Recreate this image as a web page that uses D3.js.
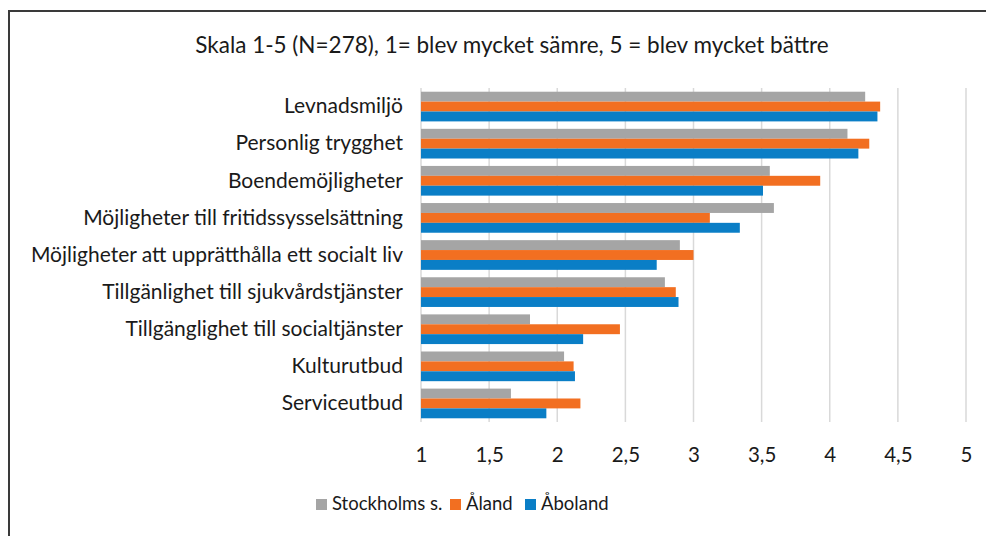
<!DOCTYPE html>
<html>
<head>
<meta charset="utf-8">
<script src="https://cdn.jsdelivr.net/npm/d3@7"></script>
<style>
  body { margin: 0; background: #fff; }
  svg text { font-family: Lato, "Open Sans", sans-serif; fill: #1a1a1a; }
</style>
</head>
<body>
<script>
// categories, top to bottom
var categories = [
    "Levnadsmiljö",
    "Personlig trygghet",
    "Boendemöjligheter",
    "Möjligheter till fritidssysselsättning",
    "Möjligheter att upprätthålla ett socialt liv",
    "Tillgänlighet till sjukvårdstjänster",
    "Tillgänglighet till socialtjänster",
    "Kulturutbud",
    "Serviceutbud"
];

var seriesNames = ["Stockholms s.", "Åland", "Åboland"];

var stockholm = [4.26, 4.13, 3.56, 3.59, 2.90, 2.79, 1.80, 2.05, 1.66];
var aland     = [4.37, 4.29, 3.93, 3.12, 3.00, 2.87, 2.46, 2.12, 2.17];
var aboland   = [4.35, 4.21, 3.51, 3.34, 2.73, 2.89, 2.19, 2.13, 1.92];

var tickValues = [1, 1.5, 2, 2.5, 3, 3.5, 4, 4.5, 5];

var colors = ["#A5A5A5", "#F26F21", "#0A7EC6"];

var width = 986, height = 536;

var svg = d3.select("body").append("svg")
    .attr("width", width)
    .attr("height", height);

// frame (only top and left edges are visible in the picture)
svg.append("path")
    .attr("d", "M9,536 L9,11 L986,11")
    .attr("fill", "none")
    .attr("stroke", "#3a3a3a")
    .attr("stroke-width", 2);

// title
svg.append("text")
    .attr("x", 512)
    .attr("y", 47)
    .attr("text-anchor", "middle")
    .attr("dominant-baseline", "middle")
    .style("font-size", "22.5px")
    .text("Skala 1-5 (N=278), 1= blev mycket sämre, 5 = blev mycket bättre");

var xScale = d3.scaleLinear().domain([1, 5]).range([421, 966]);

var yScale = d3.scaleBand().domain(categories).range([88, 422])
    .paddingInner(0.2).paddingOuter(0.1);

var inner = d3.scaleBand().domain(seriesNames).range([0, yScale.bandwidth()]);

var locale = d3.formatLocale({ decimal: ",", thousands: " ", grouping: [3], currency: ["", ""] });
var fmt = locale.format("~g");

// gridlines
svg.append("g").selectAll("line")
    .data(tickValues)
    .enter().append("line")
    .attr("x1", function (d) { return xScale(d); })
    .attr("x2", function (d) { return xScale(d); })
    .attr("y1", 88)
    .attr("y2", 422)
    .attr("stroke", "#d9d9d9")
    .attr("stroke-width", 1.5);

// x axis labels
var xAxis = d3.axisBottom(xScale).tickValues(tickValues).tickFormat(fmt).tickSize(0).tickPadding(0);
var gx = svg.append("g")
    .attr("transform", "translate(0,455)")
    .call(xAxis);
gx.select(".domain").remove();
gx.selectAll("text")
    .attr("dy", "0.35em")
    .attr("y", 0)
    .style("font-size", "20.5px")
    .style("font-family", "Lato, 'Open Sans', sans-serif")
    .attr("fill", "#1a1a1a");

// category labels
var yAxis = d3.axisLeft(yScale).tickSize(0).tickPadding(0);
var gy = svg.append("g")
    .attr("transform", "translate(403,0)")
    .call(yAxis);
gy.select(".domain").remove();
gy.selectAll("text")
    .style("font-size", "21px")
    .style("font-family", "Lato, 'Open Sans', sans-serif")
    .attr("fill", "#1a1a1a");

// bars
var rows = categories.map(function (c, i) {
    return { category: c, values: [stockholm[i], aland[i], aboland[i]] };
});

var groups = svg.append("g").selectAll("g")
    .data(rows)
    .enter().append("g")
    .attr("transform", function (d) { return "translate(0," + yScale(d.category) + ")"; });

groups.selectAll("rect")
    .data(function (d) {
        return d.values.map(function (v, j) { return { name: seriesNames[j], value: v, j: j }; });
    })
    .enter().append("rect")
    .attr("x", xScale(1))
    .attr("y", function (d) { return inner(d.name); })
    .attr("width", function (d) { return xScale(d.value) - xScale(1); })
    .attr("height", inner.bandwidth())
    .attr("fill", function (d) { return colors[d.j]; });

// legend
var legendX = [316, 450, 525];
var legend = svg.append("g").selectAll("g")
    .data(seriesNames)
    .enter().append("g")
    .attr("transform", function (d, i) { return "translate(" + legendX[i] + ",499)"; });

legend.append("rect")
    .attr("width", 11)
    .attr("height", 11)
    .attr("fill", function (d, i) { return colors[i]; });

legend.append("text")
    .attr("x", 16)
    .attr("y", 6.5)
    .attr("dominant-baseline", "middle")
    .style("font-size", "18.5px")
    .text(function (d) { return d; });
</script>
</body>
</html>
